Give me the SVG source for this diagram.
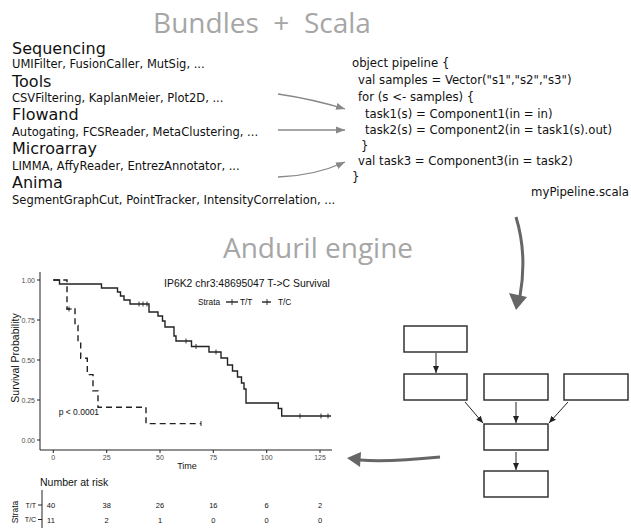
<svg xmlns="http://www.w3.org/2000/svg" width="631" height="528" viewBox="0 0 631 528">
<style>
.title{font-family:"Open Sans","DejaVu Sans",sans-serif;font-size:28px;fill:#a6a6a6}
.hd{font-family:"DejaVu Sans",sans-serif;font-size:16px;fill:#111}
.sub{font-family:"DejaVu Sans",sans-serif;font-size:11.5px;fill:#111}
.code{font-family:"DejaVu Sans Condensed","DejaVu Sans",sans-serif;font-stretch:condensed;font-size:13px;fill:#111}
.pl{font-family:"Liberation Sans",Arial,sans-serif;fill:#111}
.tick{font-family:"Liberation Sans",Arial,sans-serif;font-size:7px;fill:#4d4d4d}
.box{fill:#fff;stroke:#333;stroke-width:1.5}
.con{fill:none;stroke:#222;stroke-width:1}
.gcon{fill:none;stroke:#888;stroke-width:1.3}
.big{fill:none;stroke:#666;stroke-width:3}
.solid{fill:none;stroke:#222;stroke-width:1.4}
.dash{fill:none;stroke:#222;stroke-width:1.4;stroke-dasharray:6 4}
.cen{stroke:#222;stroke-width:0.9}
.ax{stroke:#222;stroke-width:1;fill:none}
</style>
<defs>
<marker id="ah" markerWidth="8" markerHeight="8" refX="7" refY="4" orient="auto" markerUnits="userSpaceOnUse"><path d="M0,1 L7,4 L0,7 Z" fill="#222"/></marker>
<marker id="gh" markerWidth="10" markerHeight="10" refX="9" refY="5" orient="auto" markerUnits="userSpaceOnUse"><path d="M0,1.5 L9,5 L0,8.5 Z" fill="#888"/></marker>
</defs>

<!-- titles -->
<text class="title" x="262" y="33" text-anchor="middle" xml:space="preserve">Bundles  +  Scala</text>
<text class="title" x="318" y="258" text-anchor="middle">Anduril engine</text>

<!-- bundles list -->
<g id="bundles">
<text class="hd" x="12" y="54">Sequencing</text>
<text class="sub" x="12" y="68">UMIFilter, FusionCaller, MutSig, ...</text>
<text class="hd" x="12" y="87">Tools</text>
<text class="sub" x="12" y="102">CSVFiltering, KaplanMeier, Plot2D, ...</text>
<text class="hd" x="12" y="120">Flowand</text>
<text class="sub" x="12" y="136">Autogating, FCSReader, MetaClustering, ...</text>
<text class="hd" x="12" y="154">Microarray</text>
<text class="sub" x="12" y="170">LIMMA, AffyReader, EntrezAnnotator, ...</text>
<text class="hd" x="12" y="188">Anima</text>
<text class="sub" x="12" y="204">SegmentGraphCut, PointTracker, IntensityCorrelation, ...</text>
</g>

<!-- scala code -->
<g id="code">
<text class="code" x="352" y="67">object pipeline {</text>
<text class="code" x="358" y="84">val samples = Vector("s1","s2","s3")</text>
<text class="code" x="358" y="101">for (s &lt;- samples) {</text>
<text class="code" x="365" y="118">task1(s) = Component1(in = in)</text>
<text class="code" x="365" y="134">task2(s) = Component2(in = task1(s).out)</text>
<text class="code" x="361" y="150">}</text>
<text class="code" x="358" y="165">val task3 = Component3(in = task2)</text>
<text class="code" x="352" y="181">}</text>
<text class="code" x="629" y="196" text-anchor="end">myPipeline.scala</text>
</g>

<!-- workflow nodes -->
<g id="n1"><rect class="box" x="404" y="326" width="63" height="26"/></g>
<g id="n2"><rect class="box" x="404" y="374" width="63" height="26"/></g>
<g id="n3"><rect class="box" x="484" y="374" width="64" height="26"/></g>
<g id="n4"><rect class="box" x="564" y="374" width="64" height="26"/></g>
<g id="n5"><rect class="box" x="484" y="424" width="64" height="26"/></g>
<g id="n6"><rect class="box" x="484" y="471" width="64" height="26"/></g>

<!-- connectors -->
<g id="connectors">
<path class="gcon" d="M278,94 Q312,99 345,109" marker-end="url(#gh)"/>
<path class="gcon" d="M278,130 L345,130" marker-end="url(#gh)"/>
<path class="gcon" d="M278,177 Q314,176 345,162" marker-end="url(#gh)"/>
<path class="big" d="M516,217 C523,240 525,268 520,296"/>
<path d="M509,293 L527,297 L516,310 Z" fill="#666"/>
<path class="big" d="M440,457 C410,460 385,462 360,460"/>
<path d="M361,452 L360,467 L347,458 Z" fill="#666"/>
<path class="con" d="M436,353 L436,373" marker-end="url(#ah)"/>
<path class="con" d="M465,402 L483,423" marker-end="url(#ah)"/>
<path class="con" d="M516,402 L516,423" marker-end="url(#ah)"/>
<path class="con" d="M568,402 L549,423" marker-end="url(#ah)"/>
<path class="con" d="M516,452 L516,470" marker-end="url(#ah)"/>
</g>

<!-- Kaplan-Meier plot -->
<g id="kmplot">
<text class="pl" x="247" y="287" font-size="10.4" text-anchor="middle">IP6K2 chr3:48695047 T-&gt;C Survival</text>
<text class="pl" x="198" y="305" font-size="8.3">Strata</text>
<path class="solid" d="M226,302 H238"/><path class="cen" d="M232,299 V305"/>
<text class="pl" x="240" y="305" font-size="8.3">T/T</text>
<path class="solid" d="M262,302 H271"/><path class="cen" d="M267,299 V305"/>
<text class="pl" x="278" y="305" font-size="8.3">T/C</text>

<path class="ax" d="M40,272 V450 H332"/>
<path class="ax" d="M37,280 H40 M37,320 H40 M37,360 H40 M37,400 H40 M37,440 H40"/>
<path class="ax" d="M53.3,450 V453 M106.7,450 V453 M160,450 V453 M213.3,450 V453 M266.7,450 V453 M320,450 V453"/>
<text class="tick" x="35" y="282.5" text-anchor="end">1.00</text>
<text class="tick" x="35" y="322.5" text-anchor="end">0.75</text>
<text class="tick" x="35" y="362.5" text-anchor="end">0.50</text>
<text class="tick" x="35" y="402.5" text-anchor="end">0.25</text>
<text class="tick" x="35" y="442.5" text-anchor="end">0.00</text>
<text class="tick" x="53.3" y="460" text-anchor="middle">0</text>
<text class="tick" x="106.7" y="460" text-anchor="middle">25</text>
<text class="tick" x="160" y="460" text-anchor="middle">50</text>
<text class="tick" x="213.3" y="460" text-anchor="middle">75</text>
<text class="tick" x="266.7" y="460" text-anchor="middle">100</text>
<text class="tick" x="320" y="460" text-anchor="middle">125</text>
<text class="pl" x="187" y="469" font-size="9" text-anchor="middle">Time</text>
<text class="pl" font-size="10.5" text-anchor="middle" transform="translate(19,358) rotate(-90)">Survival Probability</text>

<path class="solid" d="M53.3,280 H59.5 V284 H101.5 V288 H117.5 V292 H120.5 V296 H124 V300 H130 V304 H149 V312 H158 V316 H162.5 V321 H165 V327 H174 V336 H176 V341 H191.5 V346.5 H209 V352 H221 V358 H227.5 V365 H232.5 V371 H237.5 V377 H241.5 V383 H244 V389 H246 V403 H278.3 V408.5 H281.7 V416 H331"/>
<path class="cen" d="M139,301.5 V306.5 M143,301.5 V306.5 M147,301.5 V306.5 M186,338.5 V343.5 M196,344 V349 M216,349.5 V354.5 M300,413.5 V418.5 M321,413.5 V418.5 M328,413.5 V418.5"/>
<path class="dash" d="M53.3,280 H67 V309 H75 V325.4 H78 V341.8 H80.7 V358.2 H87.3 V374.6 H93 V390.9 H98 V407.3 H146 V423.6 H201"/>
<path class="cen" d="M69,306.5 V311.5 M66,309 H72 M201,421 V426"/>
<text class="pl" x="58.7" y="415" font-size="8.5">p &lt; 0.0001</text>
</g>

<!-- risk table -->
<g id="risktable">
<text class="pl" x="40" y="486" font-size="10.5">Number at risk</text>
<path class="ax" d="M42,490 V528 M38,505 H42 M38,519.5 H42"/>
<text class="pl" x="36" y="507.5" font-size="7" text-anchor="end">T/T</text>
<text class="pl" x="36" y="522" font-size="7" text-anchor="end">T/C</text>
<text class="pl" font-size="8.5" text-anchor="middle" transform="translate(18,512) rotate(-90)">Strata</text>
<g class="pl" font-size="7.5" text-anchor="middle" fill="#333">
<text x="51" y="508">40</text><text x="106.7" y="508">38</text><text x="160" y="508">26</text><text x="213.3" y="508">16</text><text x="266.7" y="508">6</text><text x="320" y="508">2</text>
<text x="51" y="522.5">11</text><text x="106.7" y="522.5">2</text><text x="160" y="522.5">1</text><text x="213.3" y="522.5">0</text><text x="266.7" y="522.5">0</text><text x="320" y="522.5">0</text>
</g>
</g>
</svg>
